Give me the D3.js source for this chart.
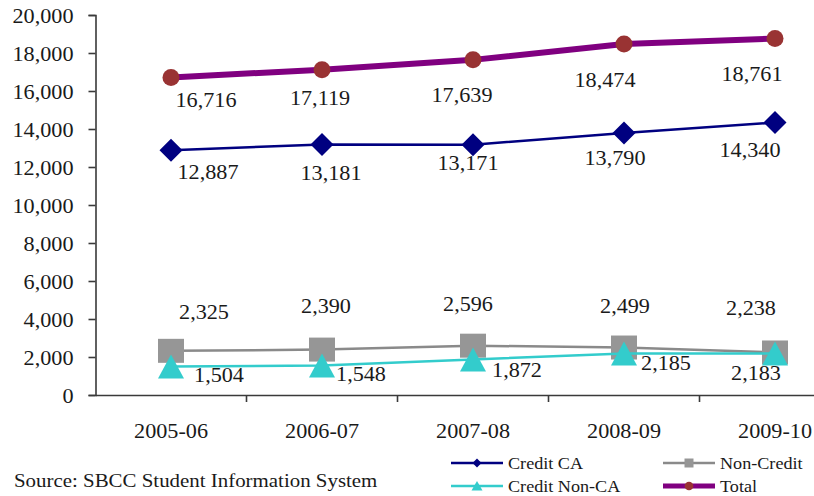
<!DOCTYPE html>
<html>
<head>
<meta charset="utf-8">
<script src="https://cdn.jsdelivr.net/npm/d3@7"></script>
<style>
  html, body { margin: 0; padding: 0; background: #fff; }
  svg text { font-family: "Liberation Serif", "Times New Roman", serif; fill: #1a1a1a; }
</style>
</head>
<body>
<svg id="chart" width="814" height="496"></svg>
<script>
// Headcount by year and student group
const years = ["2005-06", "2006-07", "2007-08", "2008-09", "2009-10"];
const creditCA = [12887, 13181, 13171, 13790, 14340];
const nonCredit = [2325, 2390, 2596, 2499, 2238];
const creditNonCA = [1504, 1548, 1872, 2185, 2183];
const total = [16716, 17119, 17639, 18474, 18761];
const yTicks = [0, 2000, 4000, 6000, 8000, 10000, 12000, 14000, 16000, 18000, 20000];

// Hand-placed data label offsets from each marker: [dx, baseline dy] in px
const totalLabelOffsets = [[35, 30], [-2, 35], [-11, 42], [-19, 43], [-23, 42]];
const creditCALabelOffsets = [[37, 29], [9, 35], [-5, 25], [-9, 32], [-25, 34]];
const nonCreditLabelOffsets = [[33, -32], [4, -37], [-5, -35], [1, -35], [-24, -37]];
const creditNonCALabelOffsets = [[48, 16], [39, 15], [44, 18], [42, 17], [-19, 26]];

const svg = d3.select("#chart");
const plotLeft = 95.5, plotTop = 15, plotBottom = 395, bandW = 151;
const STRETCH = 1.11;   // slightly wide lettering

const x = d3.scaleBand().domain(years).range([plotLeft, plotLeft + bandW * years.length]).padding(0);
const y = d3.scaleLinear().domain([0, 20000]).range([plotBottom, plotTop]);
const fmt = d3.format(",");

// Widen text horizontally around its anchor point
function stretch(sel, k = STRETCH) {
  sel.each(function () {
    const t = d3.select(this);
    const tx = +t.attr("x") || 0, ty = +t.attr("y") || 0;
    t.attr("x", 0).attr("y", 0).attr("transform", `translate(${tx},${ty}) scale(${k},1)`);
  });
}

// Axes
const axisColor = "#3a3a3a";
const yAxis = d3.axisLeft(y).tickValues(yTicks).tickSize(7).tickPadding(15).tickFormat(fmt);
const gy = svg.append("g").attr("transform", `translate(${plotLeft},0)`).call(yAxis);
gy.select(".domain").attr("stroke", axisColor).attr("stroke-width", 1.6);
gy.selectAll(".tick line").attr("stroke", axisColor).attr("stroke-width", 1.6);
gy.selectAll(".tick text").attr("font-size", 20).attr("dy", "0.38em").attr("font-family", null);
stretch(gy.selectAll(".tick text"));

const xAxis = d3.axisBottom(x).tickSize(0).tickPadding(43);
const gx = svg.append("g").attr("transform", `translate(0,${plotBottom})`).call(xAxis);
gx.select(".domain").attr("stroke", axisColor).attr("stroke-width", 1.6);
gx.selectAll(".tick text").attr("font-size", 20).attr("dy", "0").attr("font-family", null);
stretch(gx.selectAll(".tick text"));
// tick marks on category boundaries
gx.selectAll(".bound").data(years).enter().append("line")
  .attr("x1", d => x(d) + bandW).attr("x2", d => x(d) + bandW)
  .attr("y1", 0).attr("y2", 7).attr("stroke", axisColor).attr("stroke-width", 1.6);

const cx = d => x(d) + bandW / 2;
const line = d3.line().x((d, i) => cx(years[i])).y(d => y(d));

function drawSeries(vals, color, width, marker) {
  const g = svg.append("g");
  g.append("path").datum(vals).attr("d", line).attr("fill", "none")
    .attr("stroke", color).attr("stroke-width", width).attr("stroke-linejoin", "round");
  g.selectAll("path.m").data(vals).enter().append("path").attr("class", "m")
    .attr("transform", (d, i) => `translate(${cx(years[i])},${y(d)})`)
    .attr("d", marker.d).attr("fill", marker.fill);
}

function drawLabels(vals, offsets) {
  const t = svg.append("g").selectAll("text").data(vals).enter().append("text")
    .attr("x", (d, i) => cx(years[i]) + offsets[i][0])
    .attr("y", (d, i) => y(d) + offsets[i][1])
    .attr("text-anchor", "middle").attr("font-size", 20).text(fmt);
  stretch(t);
}

const diamond = "M0,-11.5L11.5,0L0,11.5L-11.5,0Z";
const square = "M-13,-12H13V12H-13Z";
const triangle = "M0,-12L13,12H-13Z";
const circle = d3.symbol().type(d3.symbolCircle).size(Math.PI * 8.5 * 8.5)();

drawSeries(nonCredit, "#8a8a8a", 2.5, { d: square, fill: "#969696" });
drawSeries(creditNonCA, "#33cccc", 2.5, { d: triangle, fill: "#33cccc" });
drawSeries(creditCA, "#000080", 2.5, { d: diamond, fill: "#000080" });
drawSeries(total, "#800080", 6, { d: circle, fill: "#993333" });

drawLabels(total, totalLabelOffsets);
drawLabels(creditCA, creditCALabelOffsets);
drawLabels(nonCredit, nonCreditLabelOffsets);
drawLabels(creditNonCA, creditNonCALabelOffsets);

// Source note
const src = svg.append("text").attr("x", 14).attr("y", 487).attr("font-size", 19)
  .text("Source: SBCC Student Information System");
stretch(src, 1.1);

// Legend
const legendItems = [
  { name: "Credit CA", color: "#000080", w: 2.5, m: "M0,-4.5L4.5,0L0,4.5L-4.5,0Z", fill: "#000080", x: 451, y: 463 },
  { name: "Non-Credit", color: "#8a8a8a", w: 2.5, m: "M-4.5,-4.5H4.5V4.5H-4.5Z", fill: "#969696", x: 663, y: 463 },
  { name: "Credit Non-CA", color: "#33cccc", w: 2.5, m: "M0,-5L5.5,4.5H-5.5Z", fill: "#33cccc", x: 451, y: 486 },
  { name: "Total", color: "#800080", w: 5, m: d3.symbol().type(d3.symbolCircle).size(60)(), fill: "#993333", x: 663, y: 486 }
];
const lg = svg.append("g").selectAll("g").data(legendItems).enter().append("g")
  .attr("transform", d => `translate(${d.x},${d.y})`);
lg.append("line").attr("x1", 0).attr("x2", 52).attr("stroke", d => d.color).attr("stroke-width", d => d.w);
lg.append("path").attr("transform", "translate(26,0)").attr("d", d => d.m).attr("fill", d => d.fill);
const lt = lg.append("text").attr("x", 57).attr("y", 6).attr("font-size", 16.5).text(d => d.name);
stretch(lt, 1.1);
</script>
</body>
</html>
